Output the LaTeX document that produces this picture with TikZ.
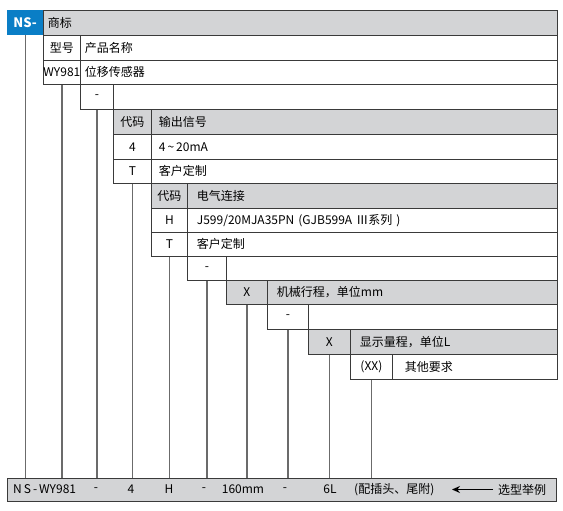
\documentclass[tikz,border=0pt]{standalone}
\usepackage{fontspec}
\setmainfont{Noto Sans CJK SC}
\usetikzlibrary{arrows.meta}
\definecolor{nsblue}{HTML}{0A7EC6}
\definecolor{cellgray}{HTML}{D3D4D6}
\definecolor{edge}{HTML}{3A3A3A}
\definecolor{conn}{HTML}{6B6B6B}
\newcommand\mkcell[8]{%
  \pgfmathsetmacro\cw{#4-#2}\pgfmathsetmacro\ch{#5-#3}\pgfmathsetmacro\tw{#4-#2-9}%
  \node[#6, anchor=north west, minimum width=\cw pt, minimum height=\ch pt,
        inner xsep=4.5pt, inner ysep=0pt, text width=\tw pt, align=#7] (#1) at (#2,#3) {#8};}
\newcommand\mkcode[7]{%
  \pgfmathsetmacro\cw{#4-#2}\pgfmathsetmacro\ch{#5-#3}%
  \node[#6, anchor=north west, minimum width=\cw pt, minimum height=\ch pt,
        inner sep=0pt] (#1) at (#2,#3) {#7};}
\tikzset{
  wcell/.style={draw=edge, line width=0.8pt, fill=white, font=\fontsize{12}{14}\selectfont},
  gcell/.style={wcell, fill=cellgray},
  conline/.style={draw=conn, line width=1.3pt},
  bartext/.style={font=\fontsize{12}{14}\selectfont, inner sep=0pt},
}
\begin{document}
\begin{tikzpicture}[x=1pt,y=-1pt]
\useasboundingbox (0,0) rectangle (563,511);
% row 1
\mkcode{ns}{7}{10}{43}{35}{fill=nsblue, text=white, font=\fontsize{13}{15}\bfseries}{NS-}
\mkcell{r1d}{43}{10}{557}{35}{gcell}{left}{商标}
% row 2-3
\mkcode{r2c}{43}{35}{80}{60}{wcell}{型号}
\mkcell{r2d}{80}{35}{557}{60}{wcell}{left}{产品名称}
\mkcode{r3c}{43}{60}{80}{84}{wcell}{WY981}
\mkcell{r3d}{80}{60}{557}{84}{wcell}{left}{位移传感器}
% row 4
\mkcode{r4c}{80}{84}{113}{109}{wcell}{-}
\mkcell{r4d}{113}{84}{557}{109}{wcell}{left}{}
% rows 5-7
\mkcode{r5c}{113}{109}{151}{134}{gcell}{代码}
\mkcell{r5d}{151}{109}{557}{134}{gcell}{left}{\hspace*{3pt}输出信号}
\mkcode{r6c}{113}{134}{151}{159}{wcell}{4}
\mkcell{r6d}{151}{134}{557}{159}{wcell}{left}{\hspace*{3pt}4\,\char"007E\,20mA}
\mkcode{r7c}{113}{159}{151}{183}{wcell}{T}
\mkcell{r7d}{151}{159}{557}{183}{wcell}{left}{\hspace*{3pt}客户定制}
% rows 8-10
\mkcode{r8c}{151}{183}{187}{208}{gcell}{代码}
\mkcell{r8d}{187}{183}{557}{208}{gcell}{left}{\hspace*{5pt}电气连接}
\mkcode{r9c}{151}{208}{187}{232}{wcell}{H}
\mkcell{r9d}{187}{208}{557}{232}{wcell}{left}{\hspace*{5pt}J599/20MJA35PN (GJB599A Ⅲ系列 )}
\mkcode{r10c}{151}{232}{187}{256}{wcell}{T}
\mkcell{r10d}{187}{232}{557}{256}{wcell}{left}{\hspace*{5pt}客户定制}
% row 11
\mkcode{r11c}{187}{256}{226}{280}{wcell}{-}
\mkcell{r11d}{226}{256}{557}{280}{wcell}{left}{}
% row 12
\mkcode{r12c}{226}{280}{267}{304}{gcell}{X}
\mkcell{r12d}{267}{280}{557}{304}{gcell}{left}{\hspace*{5pt}机械行程，单位mm}
% row 13
\mkcode{r13c}{267}{304}{308}{329}{wcell}{-}
\mkcell{r13d}{308}{304}{557}{329}{wcell}{left}{}
% row 14
\mkcode{r14c}{308}{329}{350}{354}{gcell}{X}
\mkcell{r14d}{350}{329}{557}{354}{gcell}{left}{\hspace*{5pt}显示量程，单位L}
% row 15
\mkcode{r15c}{350}{354}{392}{379}{wcell}{(XX)}
\mkcell{r15d}{392}{354}{557}{379}{wcell}{left}{\hspace*{8pt}其他要求}
% bottom bar
\mkcode{bar}{7}{478}{556}{501}{gcell}{}
% connectors
\foreach \c in {ns,r3c,r4c,r7c,r10c,r11c,r12c,r13c,r14c,r15c}
  \draw[conline] (\c.south) -- (\c.south |- bar.north);
% bar texts
\node[bartext, anchor=west] (b1) at (13,489.5) {N\,S\,-\,WY981};
\node[bartext] (b2) at (96,489.5) {-};
\node[bartext] (b3) at (131,489.5) {4};
\node[bartext] (b4) at (169,489.5) {H};
\node[bartext] (b5) at (204,489.5) {-};
\node[bartext] (b6) at (243,489.5) {160mm};
\node[bartext] (b7) at (285,489.5) {-};
\node[bartext] (b8) at (330,489.5) {6L};
\node[bartext, anchor=west] (b9) at (354,489.5) {(配插头、尾附)};
\node[bartext, anchor=west] (b10) at (498,489.5) {选型举例};
\coordinate (tip) at (452,489.5);
\draw[line width=1.8pt, -{Stealth[length=8pt,width=7pt]}] ([xshift=-5pt]b10.west) -- (tip);
\end{tikzpicture}
\end{document}
